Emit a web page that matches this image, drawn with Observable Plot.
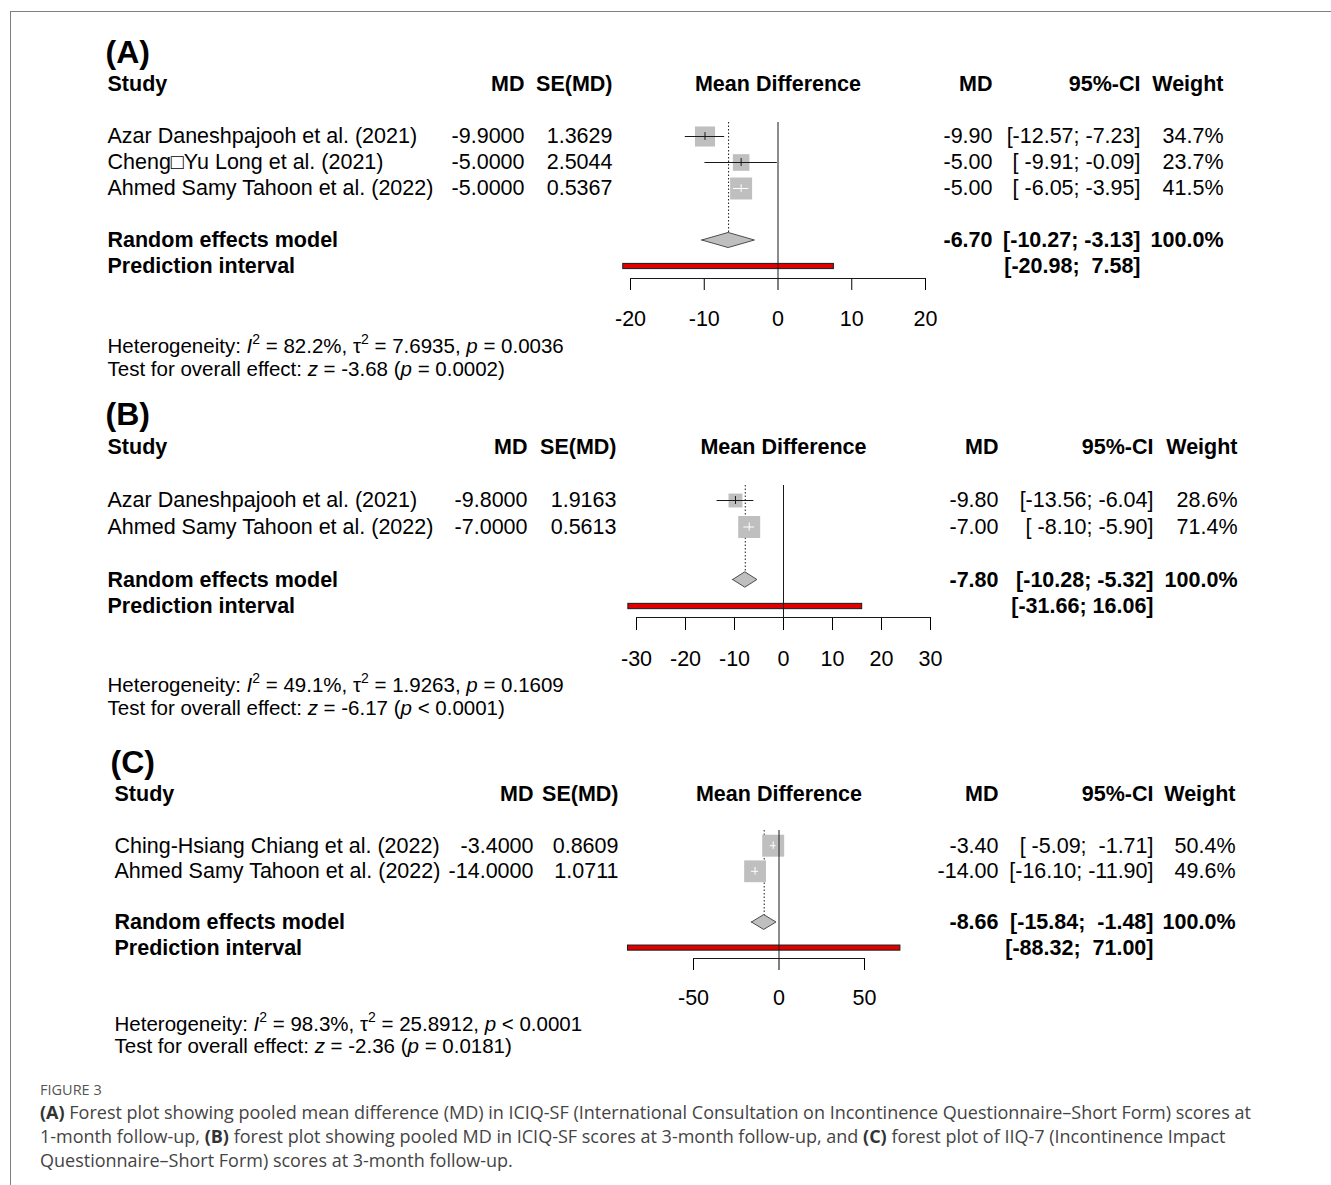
<!DOCTYPE html>
<html>
<head>
<meta charset="utf-8">
<script src="https://cdn.jsdelivr.net/npm/d3@7"></script>
<script src="https://cdn.jsdelivr.net/npm/@observablehq/plot@0.6"></script>
<style>
  body { margin: 0; background: #fff; }
  #page { position: relative; width: 1331px; height: 1185px; overflow: hidden; background: #fff; }
  #frame { position: absolute; left: 10px; top: 11px; right: -5px; bottom: -5px;
           border-left: 1px solid #7f7f7f; border-top: 1px solid #7f7f7f; }
  .panel { position: absolute; left: 0; }
  #caption { position: absolute; left: 40px; top: 1079px; width: 1285px; font-family: "Open Sans", sans-serif; color: #444; }
  #caption .fig { font-size: 14.5px; line-height: 21px; color: #555; }
  #caption .txt { font-size: 18px; line-height: 24px; white-space: nowrap; }
  #caption b { font-weight: 700; color: #333; }
</style>
</head>
<body>
<div id="page">
  <div id="frame"></div>
  <div id="pA" class="panel"></div>
  <div id="pB" class="panel"></div>
  <div id="pC" class="panel"></div>
  <div id="caption">
    <div class="fig">FIGURE 3</div>
    <div class="txt"><b>(A)</b> Forest plot showing pooled mean difference (MD) in ICIQ-SF (International Consultation on Incontinence Questionnaire–Short Form) scores at<br>1-month follow-up, <b>(B)</b> forest plot showing pooled MD in ICIQ-SF scores at 3-month follow-up, and <b>(C)</b> forest plot of IIQ-7 (Incontinence Impact<br>Questionnaire–Short Form) scores at 3-month follow-up.</div>
  </div>
</div>
<script>
// ---------------- DATA ----------------
const panelLabels = ["(A)", "(B)", "(C)"];
const headers = ["Study", "MD", "SE(MD)", "Mean Difference", "MD", "95%-CI", "Weight"];

const studiesA = ["Azar Daneshpajooh et al. (2021)", "Cheng\u25A1Yu Long et al. (2021)", "Ahmed Samy Tahoon et al. (2022)"];
const mdA = [-9.9, -5.0, -5.0];
const seA = [1.3629, 2.5044, 0.5367];
const ciLoA = [-12.57, -9.91, -6.05];
const ciHiA = [-7.23, -0.09, -3.95];
const weightA = [34.7, 23.7, 41.5];
const ticksA = [-20, -10, 0, 10, 20];

const studiesB = ["Azar Daneshpajooh et al. (2021)", "Ahmed Samy Tahoon et al. (2022)"];
const mdB = [-9.8, -7.0];
const seB = [1.9163, 0.5613];
const ciLoB = [-13.56, -8.10];
const ciHiB = [-6.04, -5.90];
const weightB = [28.6, 71.4];
const ticksB = [-30, -20, -10, 0, 10, 20, 30];

const studiesC = ["Ching-Hsiang Chiang et al. (2022)", "Ahmed Samy Tahoon et al. (2022)"];
const mdC = [-3.4, -14.0];
const seC = [0.8609, 1.0711];
const ciLoC = [-5.09, -16.10];
const ciHiC = [-1.71, -11.90];
const weightC = [50.4, 49.6];
const ticksC = [-50, 0, 50];

const pooledMD = [-6.70, -7.80, -8.66];
const pooledLo = [-10.27, -10.28, -15.84];
const pooledHi = [-3.13, -5.32, -1.48];
const predLo = [-20.98, -31.66, -88.32];
const predHi = [7.58, 16.06, 71.00];

const hetI2 = ["82.2%", "49.1%", "98.3%"];
const hetTau2 = ["7.6935", "1.9263", "25.8912"];
const hetP = ["= 0.0036", "= 0.1609", "< 0.0001"];
const effZ = ["-3.68", "-6.17", "-2.36"];
const effP = ["= 0.0002", "< 0.0001", "= 0.0181"];

// ---------------- LAYOUT (page pixel positions) ----------------
const W = 1331;
const FONT = "'Liberation Sans', Arial, Helvetica, sans-serif";
const layouts = [
  {top: 20, h: 370, headerY: 84, unit: 26, zeroTop: 122, axisY: 278, xL: 630, xR: 925, tickSize: 12, tickPad: 20,
   labelX: 105, labelY: 52, studyX: 107, mdR: 524, seR: 612, md2R: 992, ciR: 1140, wR: 1223, het1: 346, het2: 369},
  {top: 390, h: 345, headerY: 447, unit: 26.5, zeroTop: 485, axisY: 617, xL: 636, xR: 930, tickSize: 13, tickPad: 20,
   labelX: 105, labelY: 414, studyX: 107, mdR: 527, seR: 616, md2R: 998, ciR: 1153, wR: 1237, het1: 685, het2: 708},
  {top: 735, h: 330, headerY: 794, unit: 25.6, zeroTop: 830, axisY: 958, xL: 693, xR: 864, tickSize: 12, tickPad: 19,
   labelX: 110, labelY: 762, studyX: 114, mdR: 533, seR: 618, md2R: 998, ciR: 1153, wR: 1235, het1: 1024, het2: 1046}
];
const panelData = [
  {study: studiesA, md: mdA, se: seA, lo: ciLoA, hi: ciHiA, w: weightA, ticks: ticksA},
  {study: studiesB, md: mdB, se: seB, lo: ciLoB, hi: ciHiB, w: weightB, ticks: ticksB},
  {study: studiesC, md: mdC, se: seC, lo: ciLoC, hi: ciHiC, w: weightC, ticks: ticksC}
];

const SQ_R = 12.4;           // radius of the largest square symbol
const GREY = "#bfbfbf";
const INK = "#1a1a1a";

function forest(k) {
  const L = layouts[k], D = panelData[k];
  const n = D.study.length;
  const rows = D.study.map((s, i) => ({study: s, md: D.md[i], se: D.se[i], lo: D.lo[i], hi: D.hi[i], w: D.w[i], row: 2 + i}));
  const randRow = n + 3, predRow = n + 4;
  const pooled = [{md: pooledMD[k], lo: pooledLo[k], hi: pooledHi[k], row: randRow}];
  const pred = [{lo: predLo[k], hi: predHi[k], row: predRow}];
  const t0 = D.ticks[0], t1 = D.ticks[D.ticks.length - 1];
  const pxPerUnit = (L.xR - L.xL) / (t1 - t0);
  const maxW = d3.max(D.w);
  const side = w => SQ_R * Math.sqrt(Math.PI) * Math.sqrt(w / maxW);
  rows.forEach(r => { r.inside = (r.hi - r.lo) * pxPerUnit <= side(r.w); });

  const rowOf = py => (py - L.headerY) / L.unit;
  const topRow = rowOf(L.zeroTop);
  const axisRow = rowOf(L.axisY);

  const wl = d3.max([...D.lo, pooledLo[k], predLo[k]], v => v.toFixed(2).length);
  const wh = d3.max([...D.hi, pooledHi[k], predHi[k]], v => v.toFixed(2).length);
  const ci = (lo, hi) => "[" + lo.toFixed(2).padStart(wl) + "; " + hi.toFixed(2).padStart(wh) + "]";

  const at = (px, anchor) => ({frameAnchor: "left", dx: px - L.xL, textAnchor: anchor});
  const diamond = [
    {x: pooled[0].lo, y1: randRow, y2: randRow},
    {x: pooled[0].md, y1: randRow - 0.29, y2: randRow + 0.29},
    {x: pooled[0].hi, y1: randRow, y2: randRow}
  ];
  const hetLines = [
    `Heterogeneity: I² = ${hetI2[k]}, τ² = ${hetTau2[k]}, p ${hetP[k]}`,
    `Test for overall effect: z = ${effZ[k]} (p ${effP[k]})`
  ];

  const svg = Plot.plot({
    width: W, height: L.h,
    marginLeft: L.xL, marginRight: W - L.xR,
    marginTop: L.zeroTop - L.top, marginBottom: L.top + L.h - L.axisY,
    style: {fontFamily: FONT, fontSize: "21.5px", color: "black", background: "transparent", overflow: "visible"},
    x: {domain: [t0, t1], ticks: D.ticks, tickSize: L.tickSize, tickPadding: L.tickPad, label: null, tickFormat: d => `${d}`},
    y: {domain: [0, 10], range: [L.headerY - L.top, L.headerY - L.top + 10 * L.unit], axis: null},
    r: {type: "sqrt", domain: [0, maxW], range: [0, SQ_R]},
    marks: [
      // axis line
      Plot.ruleY([axisRow], {x1: t0, x2: t1, stroke: INK}),
      // dotted line at pooled estimate
      Plot.ruleX(pooled, {x: "md", y1: topRow, y2: "row", stroke: INK, strokeDasharray: "1.5,2"}),
      // prediction interval
      Plot.rect(pred, {x1: "lo", x2: "hi", y1: d => d.row - 0.1, y2: d => d.row + 0.1, fill: "#e00000", stroke: INK, strokeWidth: 1}),
      // study squares
      Plot.dot(rows, {x: "md", y: "row", r: "w", symbol: "square", fill: GREY}),
      // confidence intervals
      Plot.ruleY(rows.filter(d => !d.inside), {y: "row", x1: "lo", x2: "hi", stroke: INK}),
      Plot.ruleY(rows.filter(d => d.inside), {y: "row", x1: "lo", x2: "hi", stroke: "white"}),
      Plot.ruleX(rows.filter(d => !d.inside), {x: "md", y1: d => d.row - 0.15, y2: d => d.row + 0.15, stroke: INK}),
      Plot.ruleX(rows.filter(d => d.inside), {x: "md", y1: d => d.row - 0.15, y2: d => d.row + 0.15, stroke: "white"}),
      // pooled diamond
      Plot.areaY(diamond, {x: "x", y1: "y1", y2: "y2", fill: GREY, stroke: "#4d4d4d", strokeWidth: 1}),
      // line of no effect
      Plot.ruleX([0], {stroke: INK}),

      // panel label
      Plot.text([panelLabels[k]], {...at(L.labelX, "start"), y: rowOf(L.labelY), text: d => d, fontWeight: "bold", fontSize: 32}),
      // headers
      Plot.text([headers[0]], {...at(L.studyX, "start"), y: 0, text: d => d, fontWeight: "bold"}),
      Plot.text([headers[1]], {...at(L.mdR, "end"), y: 0, text: d => d, fontWeight: "bold"}),
      Plot.text([headers[2]], {...at(L.seR, "end"), y: 0, text: d => d, fontWeight: "bold"}),
      Plot.text([headers[3]], {x: (t0 + t1) / 2, y: 0, text: d => d, fontWeight: "bold"}),
      Plot.text([headers[4]], {...at(L.md2R, "end"), y: 0, text: d => d, fontWeight: "bold"}),
      Plot.text([headers[5]], {...at(L.ciR, "end"), y: 0, text: d => d, fontWeight: "bold"}),
      Plot.text([headers[6]], {...at(L.wR, "end"), y: 0, text: d => d, fontWeight: "bold"}),
      // study rows
      Plot.text(rows, {...at(L.studyX, "start"), y: "row", text: "study"}),
      Plot.text(rows, {...at(L.mdR, "end"), y: "row", text: d => d.md.toFixed(4)}),
      Plot.text(rows, {...at(L.seR, "end"), y: "row", text: d => d.se.toFixed(4)}),
      Plot.text(rows, {...at(L.md2R, "end"), y: "row", text: d => d.md.toFixed(2)}),
      Plot.text(rows, {...at(L.ciR, "end"), y: "row", text: d => ci(d.lo, d.hi)}),
      Plot.text(rows, {...at(L.wR, "end"), y: "row", text: d => d.w.toFixed(1) + "%"}),
      // pooled row
      Plot.text(pooled, {...at(L.studyX, "start"), y: "row", text: () => "Random effects model", fontWeight: "bold"}),
      Plot.text(pooled, {...at(L.md2R, "end"), y: "row", text: d => d.md.toFixed(2), fontWeight: "bold"}),
      Plot.text(pooled, {...at(L.ciR, "end"), y: "row", text: d => ci(d.lo, d.hi), fontWeight: "bold"}),
      Plot.text(pooled, {...at(L.wR, "end"), y: "row", text: () => "100.0%", fontWeight: "bold"}),
      // prediction row
      Plot.text(pred, {...at(L.studyX, "start"), y: "row", text: () => "Prediction interval", fontWeight: "bold"}),
      Plot.text(pred, {...at(L.ciR, "end"), y: "row", text: d => ci(d.lo, d.hi), fontWeight: "bold"}),
      // heterogeneity
      Plot.text([hetLines[0]], {...at(L.studyX, "start"), y: rowOf(L.het1), text: d => d, fontSize: 20.5}),
      Plot.text([hetLines[1]], {...at(L.studyX, "start"), y: rowOf(L.het2), text: d => d, fontSize: 20.5})
    ]
  });
  richify(svg);
  return svg;
}

function richify(svg) {
  const ns = "http://www.w3.org/2000/svg";
  svg.querySelectorAll("text").forEach(t => {
    const s = t.textContent;
    if (!/^(Heterogeneity|Test for)/.test(s)) return;
    const parts = s.split(/(I²|τ²|\bp\b|\bz\b)/);
    while (t.firstChild) t.removeChild(t.firstChild);
    let raised = false;
    const add = (txt, attrs) => {
      const ts = document.createElementNS(ns, "tspan");
      for (const a in attrs) ts.setAttribute(a, attrs[a]);
      ts.textContent = txt;
      t.appendChild(ts);
    };
    parts.forEach(p => {
      if (!p) return;
      const back = raised ? {dy: "9"} : {};
      raised = false;
      if (p === "I²" || p === "τ²") {
        add(p[0], Object.assign(p[0] === "I" ? {"font-style": "italic"} : {}, back));
        add("2", {dy: "-9", "font-size": "14"});
        raised = true;
      } else if (p === "p" || p === "z") {
        add(p, Object.assign({"font-style": "italic"}, back));
      } else {
        add(p, back);
      }
    });
  });
}

layouts.forEach((L, k) => {
  const host = document.getElementById(["pA", "pB", "pC"][k]);
  host.style.top = L.top + "px";
  host.appendChild(forest(k));
});
</script>
</body>
</html>
